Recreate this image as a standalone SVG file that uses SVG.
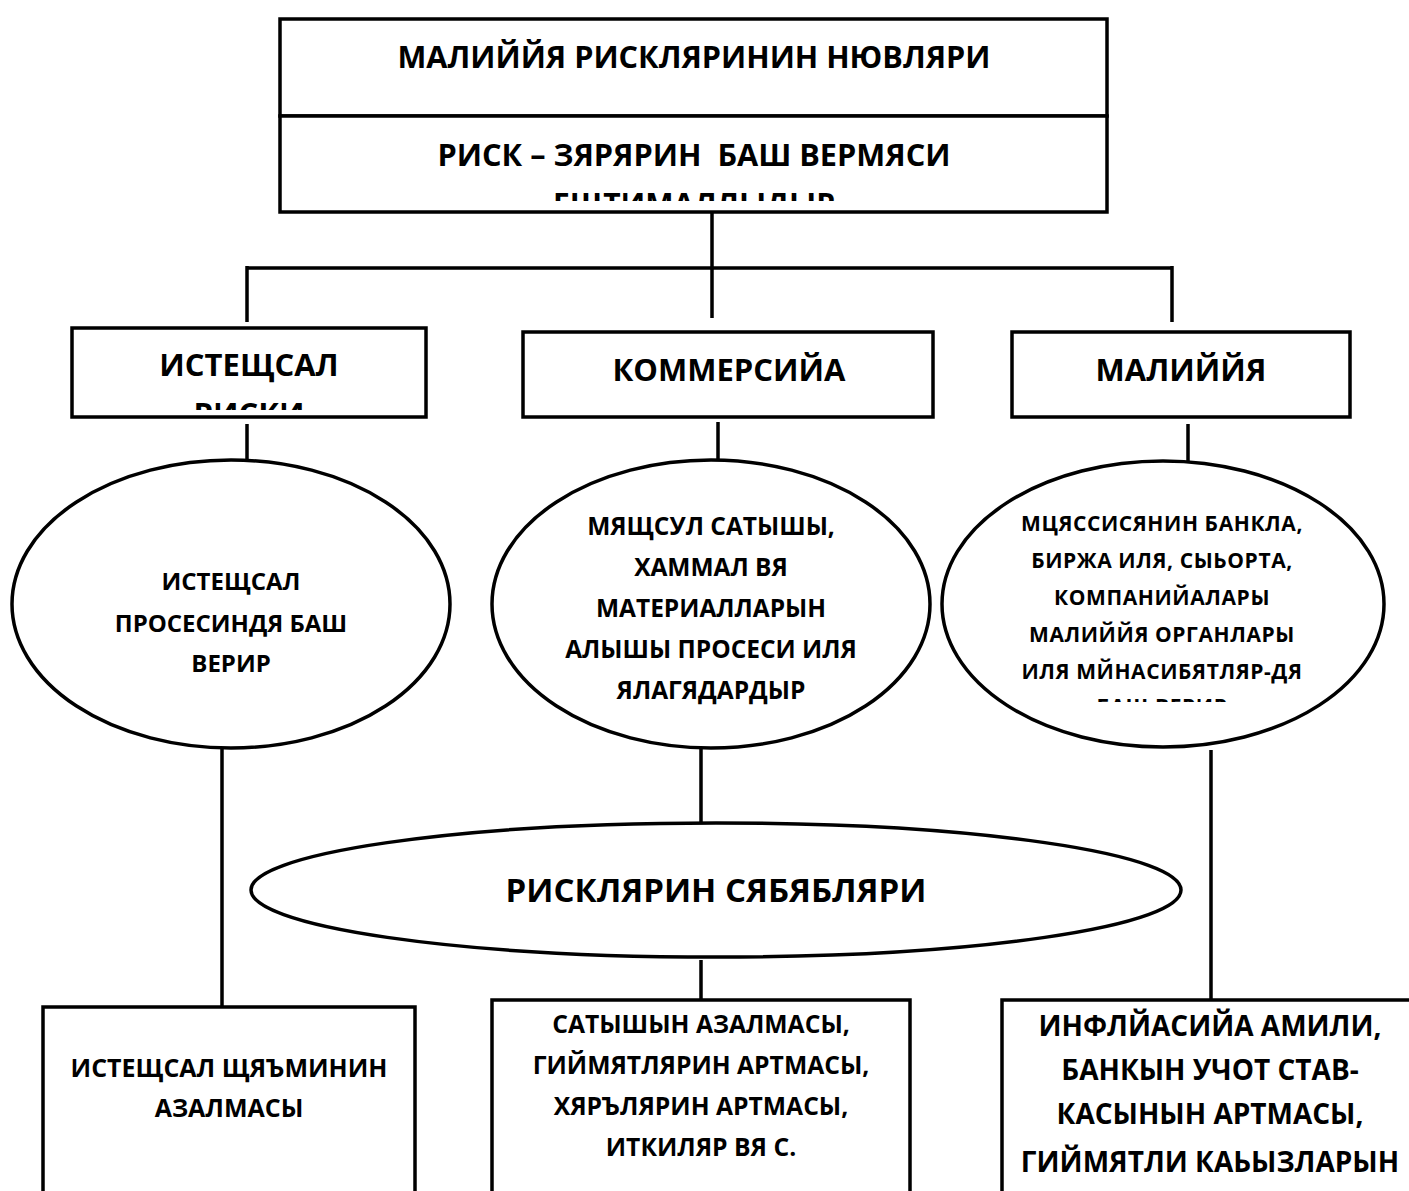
<svg xmlns="http://www.w3.org/2000/svg" width="1409" height="1191" viewBox="0 0 1409 1191">
<defs>
<style>
.b{fill:#fff;stroke:#000;stroke-width:3.5}
.c{stroke:#000;stroke-width:3.5;fill:none}
text{font-family:"Open Sans","DejaVu Sans",sans-serif;font-weight:bold;fill:#000;text-anchor:middle}
</style>
<clipPath id="cTop"><rect x="280" y="117" width="827" height="84"/></clipPath>
<clipPath id="cIst"><rect x="72" y="328" width="354" height="82"/></clipPath>
<clipPath id="cMal"><rect x="942" y="461" width="442" height="241"/></clipPath>
</defs>
<rect width="1409" height="1191" fill="#fff"/>
<g id="connectors">
<path class="c" d="M712 213V318M247 268H1172M247 266V322M1172 266V322"/>
<path class="c" d="M247 424V470M718 422V467M1188 424V470"/>
<path class="c" d="M222 748V1007M701 748V826M1211 750V1000M701 960V1000"/>
</g>
<g id="top">
<rect class="b" x="280" y="19" width="827" height="97"/>
<rect class="b" x="280" y="116" width="827" height="96"/>
<text x="694" y="68" font-size="30" textLength="593" lengthAdjust="spacingAndGlyphs">МАЛИЙЙЯ РИСКЛЯРИНИН НЮВЛЯРИ</text>
<g clip-path="url(#cTop)">
<text x="694" y="166" font-size="30" xml:space="preserve" textLength="513" lengthAdjust="spacingAndGlyphs">РИСК – ЗЯРЯРИН  БАШ ВЕРМЯСИ</text>
<text x="694" y="215" font-size="30">ЕЩТИМАЛЛЫДЫР</text>
</g>
</g>
<g id="n-istehsal">
<rect class="b" x="72" y="328" width="354" height="89"/>
<g clip-path="url(#cIst)">
<text x="249" y="376" font-size="31">ИСТЕЩСАЛ</text>
<text x="249" y="425" font-size="31">РИСКИ</text>
</g>
</g>
<g id="n-kommersiya">
<rect class="b" x="523" y="332" width="410" height="85"/>
<text x="729" y="381" font-size="31">КОММЕРСИЙА</text>
</g>
<g id="n-maliyye">
<rect class="b" x="1012" y="332" width="338" height="85"/>
<text x="1181" y="381" font-size="31">МАЛИЙЙЯ</text>
</g>
<g id="e-istehsal">
<ellipse class="b" cx="231" cy="604" rx="219" ry="144"/>
<text font-size="24"><tspan x="231" y="590">ИСТЕЩСАЛ</tspan><tspan x="231" y="632">ПРОСЕСИНДЯ БАШ</tspan><tspan x="231" y="672">ВЕРИР</tspan></text>
</g>
<g id="e-kommersiya">
<ellipse class="b" cx="711" cy="604" rx="219" ry="144"/>
<text font-size="24.5"><tspan x="711" y="535">МЯЩСУЛ САТЫШЫ,</tspan><tspan x="711" y="576">ХАММАЛ ВЯ</tspan><tspan x="711" y="617">МАТЕРИАЛЛАРЫН</tspan><tspan x="711" y="658">АЛЫШЫ ПРОСЕСИ ИЛЯ</tspan><tspan x="711" y="699">ЯЛАГЯДАРДЫР</tspan></text>
</g>
<g id="e-maliyye">
<ellipse class="b" cx="1163" cy="604" rx="221" ry="143"/>
<g clip-path="url(#cMal)">
<text font-size="21" letter-spacing="0.6"><tspan x="1162" y="531">МЦЯССИСЯНИН БАНКЛА,</tspan><tspan x="1162" y="568">БИРЖА ИЛЯ, СЫЬОРТА,</tspan><tspan x="1162" y="605">КОМПАНИЙАЛАРЫ</tspan><tspan x="1162" y="642">МАЛИЙЙЯ ОРГАНЛАРЫ</tspan><tspan x="1162" y="679">ИЛЯ МЙНАСИБЯТЛЯР-ДЯ</tspan><tspan x="1162" y="714">БАШ ВЕРИР</tspan></text>
</g>
</g>
<g id="e-sebebler">
<ellipse class="b" cx="716" cy="890" rx="465" ry="67"/>
<text x="716" y="902" font-size="33">РИСКЛЯРИН СЯБЯБЛЯРИ</text>
</g>
<g id="r-istehsal">
<rect class="b" x="43" y="1007" width="372" height="200"/>
<text font-size="25"><tspan x="229" y="1077">ИСТЕЩСАЛ ЩЯЪМИНИН</tspan><tspan x="229" y="1117">АЗАЛМАСЫ</tspan></text>
</g>
<g id="r-kommersiya">
<rect class="b" x="492" y="1000" width="418" height="210"/>
<text font-size="24.7"><tspan x="701" y="1033">САТЫШЫН АЗАЛМАСЫ,</tspan><tspan x="701" y="1074">ГИЙМЯТЛЯРИН АРТМАСЫ,</tspan><tspan x="701" y="1115">ХЯРЪЛЯРИН АРТМАСЫ,</tspan><tspan x="701" y="1156">ИТКИЛЯР ВЯ С.</tspan></text>
</g>
<g id="r-maliyye">
<rect class="b" x="1002" y="1000" width="430" height="210"/>
<text font-size="28"><tspan x="1210" y="1036">ИНФЛЙАСИЙА АМИЛИ,</tspan><tspan x="1210" y="1080">БАНКЫН УЧОТ СТАВ-</tspan><tspan x="1210" y="1124">КАСЫНЫН АРТМАСЫ,</tspan><tspan x="1210" y="1172">ГИЙМЯТЛИ КАЬЫЗЛАРЫН</tspan></text>
</g>
</svg>
